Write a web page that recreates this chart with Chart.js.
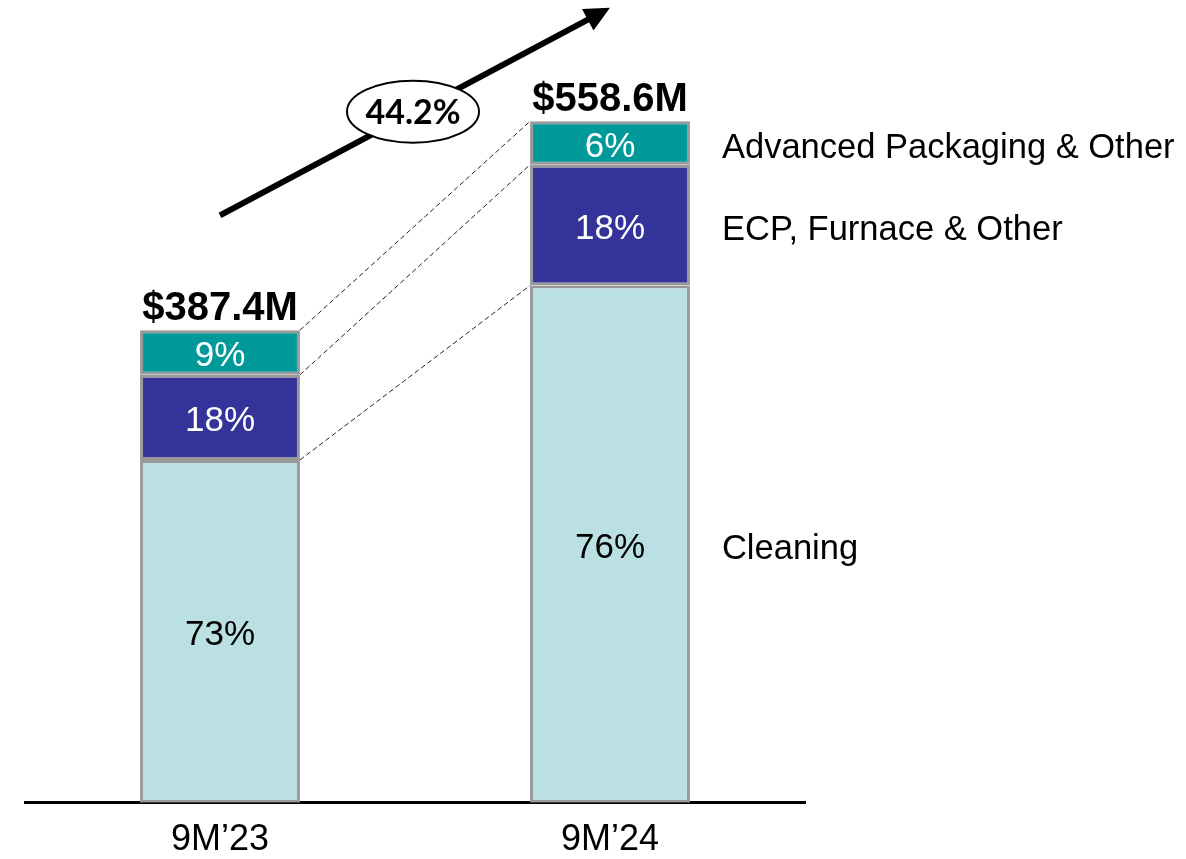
<!DOCTYPE html>
<html>
<head>
<meta charset="utf-8">
<script src="https://cdn.jsdelivr.net/npm/chart.js@4"></script>
<style>
    body { margin: 0; background: #fff; }
    #wrap { width: 1186px; height: 859px; }
</style>
</head>
<body>
<div id="wrap"><canvas id="chart"></canvas></div>
<script>
// $M
const periods = ['9M\u201923', '9M\u201924'];
const totals = [387.4, 558.6];
const totalLabels = ['$387.4M', '$558.6M'];
const cleaning = [281.0, 424.0];
const ecp = [69.8, 99.0];
const advanced = [36.6, 35.6];
const cleaningPct = ['73%', '76%'];
const ecpPct = ['18%', '18%'];
const advancedPct = ['9%', '6%'];
const segmentNames = ['Cleaning', 'ECP, Furnace & Other', 'Advanced Packaging & Other'];
const growthLabel = '44.2%';

const FONT = '"Liberation Sans", Arial, sans-serif';

window.addEventListener('load', () => {
    buildRevenueChart();
});

const overlayPlugin = {
    id: 'overlay',
    beforeDatasetsDraw(chart) {
        const ctx = chart.ctx;
        const metas = [0, 1, 2].map(i => chart.getDatasetMeta(i));
        ctx.save();
        ctx.strokeStyle = '#222';
        ctx.lineWidth = 1;
        ctx.setLineDash([5, 3]);
        metas.forEach(meta => {
            const a = meta.data[0], b = meta.data[1];
            ctx.beginPath();
            ctx.moveTo(a.x + a.width / 2, a.y);
            ctx.lineTo(b.x - b.width / 2, b.y);
            ctx.stroke();
        });
        ctx.restore();
    },
    afterDatasetsDraw(chart) {
        const ctx = chart.ctx;
        const y = chart.scales.y;
        const pcts = [cleaningPct, ecpPct, advancedPct];
        const colours = ['#000', '#fff', '#fff'];
        ctx.save();
        ctx.textAlign = 'center';
        ctx.textBaseline = 'middle';

        // segment shares
        ctx.font = '35px ' + FONT;
        [0, 1, 2].forEach(i => {
            const meta = chart.getDatasetMeta(i);
            meta.data.forEach((el, j) => {
                ctx.fillStyle = colours[i];
                ctx.fillText(pcts[i][j], el.x, (el.y + el.base) / 2 + 4);
            });
        });

        // totals
        ctx.font = 'bold 40px ' + FONT;
        ctx.fillStyle = '#000';
        chart.getDatasetMeta(2).data.forEach((el, j) => {
            ctx.fillText(totalLabels[j], el.x, el.y - 21);
        });

        // segment names beside the second bar
        ctx.font = '34.5px ' + FONT;
        ctx.textAlign = 'left';
        [0, 1, 2].forEach(i => {
            const el = chart.getDatasetMeta(i).data[1];
            ctx.fillText(segmentNames[i], el.x + el.width / 2 + 32, (el.y + el.base) / 2 + 5);
        });

        // growth arrow
        const x0 = chart.scales.x.getPixelForValue(0);
        const x1 = chart.scales.x.getPixelForValue(1);
        const y0 = y.getPixelForValue(totals[0] + 94);
        const y1 = y.getPixelForValue(totals[1] + 93);
        const ang = Math.atan2(y1 - y0, x1 - x0);
        const head = 28;
        ctx.strokeStyle = '#000';
        ctx.lineWidth = 6;
        ctx.beginPath();
        ctx.moveTo(x0, y0);
        ctx.lineTo(x1 - Math.cos(ang) * head * 0.8, y1 - Math.sin(ang) * head * 0.8);
        ctx.stroke();
        ctx.beginPath();
        ctx.moveTo(x1, y1);
        ctx.lineTo(x1 - head * Math.cos(ang - 0.45), y1 - head * Math.sin(ang - 0.45));
        ctx.lineTo(x1 - head * Math.cos(ang + 0.45), y1 - head * Math.sin(ang + 0.45));
        ctx.closePath();
        ctx.fillStyle = '#000';
        ctx.fill();

        // growth bubble
        const cx = (x0 + x1) / 2 - 2, cy = (y0 + y1) / 2;
        ctx.beginPath();
        ctx.ellipse(cx, cy, 66, 31, 0, 0, Math.PI * 2);
        ctx.fillStyle = '#fff';
        ctx.fill();
        ctx.lineWidth = 2;
        ctx.stroke();
        ctx.fillStyle = '#000';
        ctx.textAlign = 'center';
        ctx.font = 'bold 34px Lato, "Open Sans", sans-serif';
        ctx.fillText(growthLabel, cx, cy + 1);
        ctx.restore();
    }
};

function buildRevenueChart() {
    const chartCtx = document.getElementById('chart').getContext('2d');

    new Chart(chartCtx, {
        type: 'bar',
        data: {
            labels: periods,
            datasets: buildRevenueDatasets()
        },
        options: {
            responsive: true,
            maintainAspectRatio: false,
            animation: false,
            layout: {
                padding: { left: 25, right: 381, top: 0, bottom: -19 }
            },
            plugins: {
                legend: { display: false },
                tooltip: { enabled: false }
            },
            scales: {
                x: {
                    stacked: true,
                    grid: { display: false, drawTicks: false },
                    border: { display: true, color: '#000', width: 3 },
                    ticks: {
                        color: '#000',
                        padding: 16,
                        font: { family: FONT, size: 36 }
                    }
                },
                y: {
                    stacked: true,
                    display: false,
                    min: 0,
                    max: 658
                }
            }
        },
        plugins: [overlayPlugin]
    });
}

function buildRevenueDatasets() {
    const common = {
        borderColor: '#999999',
        borderWidth: 3,
        borderSkipped: false,
        categoryPercentage: 1,
        barPercentage: 0.41
    };
    return [
        { label: segmentNames[0], data: cleaning, backgroundColor: '#BBE0E3', ...common },
        { label: segmentNames[1], data: ecp, backgroundColor: '#333399', ...common },
        { label: segmentNames[2], data: advanced, backgroundColor: '#009999', ...common }
    ];
}
</script>
</body>
</html>
